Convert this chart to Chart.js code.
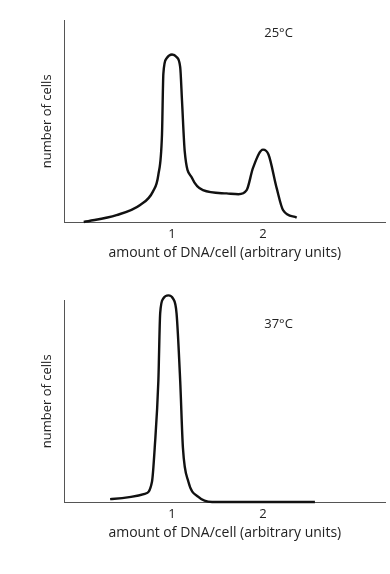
<!DOCTYPE html>
<html>
<head>
<meta charset="utf-8">
<script src="https://cdn.jsdelivr.net/npm/chart.js@4.4.1/dist/chart.umd.min.js"></script>
<style>
  body { margin: 0; background: #fff; }
  .box { position: relative; width: 390px; height: 287px; }
</style>
</head>
<body>
<div class="box"><canvas id="chart25"></canvas></div>
<div class="box"><canvas id="chart37"></canvas></div>
<script>
// top panel, 25 C
const dna25 = [0.03, 0.39, 0.65, 0.79, 0.85, 0.89, 0.905, 0.94, 1.0, 1.05, 1.09, 1.11, 1.14, 1.22, 1.34, 1.6, 1.73, 1.82, 1.89, 2.0, 2.06, 2.15, 2.22, 2.37];
const cells25 = [0.3, 3.7, 8.7, 15.3, 23.6, 43.5, 73.4, 81, 83, 81.7, 76.7, 60, 35, 22, 16, 14.4, 14, 16, 27, 36, 33.6, 17, 6.2, 2.5];

// bottom panel, 37 C
const dna37 = [0.32, 0.7, 0.78, 0.81, 0.85, 0.87, 0.905, 0.96, 1.01, 1.05, 1.09, 1.12, 1.18, 1.29, 1.44, 2.57];
const cells37 = [1.7, 4.3, 10.3, 27, 60, 93.4, 100.8, 102.3, 100.8, 93.4, 60, 27, 10.3, 2.8, 0.3, 0.3];

const xTicks = [1, 2];
const xTitle = 'amount of DNA/cell (arbitrary units)';
const yTitle = 'number of cells';

const fontFamily = '"Open Sans", sans-serif';
const fontSize = 13;
const textColor = '#222';
const axisColor = '#555';

const tempLabel = {
  id: 'tempLabel',
  afterDraw(chart, args, opts) {
    const ctx = chart.ctx;
    const x = chart.scales.x.getPixelForValue(opts.x);
    const y = chart.scales.y.getPixelForValue(opts.y);
    ctx.save();
    ctx.font = fontSize + 'px ' + fontFamily;
    ctx.fillStyle = textColor;
    ctx.textAlign = 'center';
    ctx.textBaseline = 'middle';
    ctx.fillText(opts.text, x, y);
    ctx.restore();
  }
};

function makeChart(id, xs, ys, label, labelY, topPad, bottomPad) {
  new Chart(document.getElementById(id), {
    type: 'line',
    data: {
      datasets: [{
        data: xs.map((x, i) => ({ x: x, y: ys[i] })),
        borderColor: '#111',
        borderWidth: 2.4,
        pointRadius: 0,
        fill: false,
        cubicInterpolationMode: 'monotone',
        clip: false
      }]
    },
    options: {
      responsive: true,
      maintainAspectRatio: false,
      animation: false,
      layout: { padding: { left: 35, right: 5, top: topPad, bottom: bottomPad } },
      plugins: {
        legend: { display: false },
        tooltip: { enabled: false },
        tempLabel: { text: label, x: 2.17, y: labelY }
      },
      scales: {
        x: {
          type: 'linear',
          min: -0.18,
          max: 3.34,
          afterBuildTicks: axis => { axis.ticks = xTicks.map(v => ({ value: v })); },
          ticks: { color: textColor, font: { family: fontFamily, size: fontSize }, padding: 4 },
          grid: { display: false, drawTicks: false },
          border: { display: true, color: axisColor, width: 1 },
          title: { display: true, text: xTitle, color: textColor, font: { family: fontFamily, size: 14 }, padding: { top: -2, bottom: 0 } }
        },
        y: {
          min: 0,
          max: 100,
          ticks: { display: false },
          grid: { display: false, drawTicks: false },
          border: { display: true, color: axisColor, width: 1 },
          title: { display: true, text: yTitle, color: textColor, font: { family: fontFamily, size: fontSize }, padding: { top: 4, bottom: 10 } }
        }
      }
    },
    plugins: [tempLabel]
  });
}

makeChart('chart25', dna25, cells25, '25°C', 93.5, 20, 26);
makeChart('chart37', dna37, cells37, '37°C', 88, 13, 33);
</script>
</body>
</html>
